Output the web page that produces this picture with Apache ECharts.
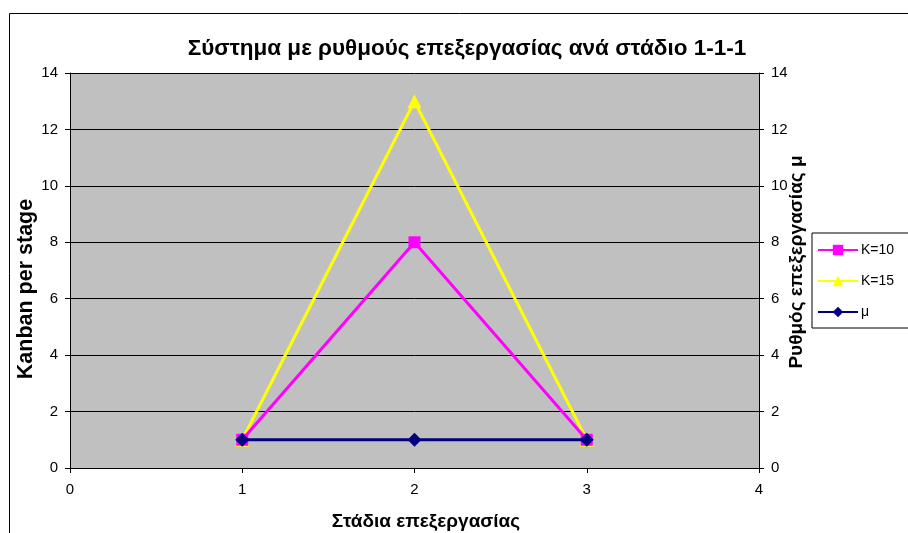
<!DOCTYPE html>
<html><head><meta charset="utf-8">
<script src="https://cdn.jsdelivr.net/npm/echarts@6/dist/echarts.min.js"></script>
<style>html,body{margin:0;padding:0;background:#fff}#c{width:908px;height:533px}</style>
</head><body><div id="c"></div>
<script>
const titleText = 'Σύστημα με ρυθμούς επεξεργασίας ανά στάδιο 1-1-1';
const xTitle = 'Στάδια επεξεργασίας';
const yLeftTitle = 'Kanban per stage';
const yRightTitle = 'Ρυθμός επεξεργασίας μ';
const stages = [1, 2, 3];
const k10 = [1, 8, 1];
const k15 = [1, 13, 1];
const mu = [1, 1, 1];
const seriesNames = ['K=10', 'K=15', 'μ'];

const font = 'Arial, "Liberation Sans", sans-serif';
const pair = arr => stages.map((s, i) => [s, arr[i]]);
const chart = echarts.init(document.getElementById('c'), null, {renderer: 'canvas'});
const axisCommon = {
  axisLine: {show: true, lineStyle: {color: '#000', width: 1}},
  axisTick: {show: true, inside: false, length: 5, lineStyle: {color: '#000'}},
  axisLabel: {color: '#000', fontFamily: font, fontSize: 15}
};
const titleStyle = (size) => ({fill: '#000', font: 'bold ' + size + 'px ' + font,
  align: 'center', verticalAlign: 'middle'});
chart.setOption({
  animation: false,
  backgroundColor: '#fff',
  title: {text: titleText, left: 462, top: 32, textAlign: 'center',
    textStyle: {fontFamily: font, fontSize: 22.5, fontWeight: 'bold', color: '#000'}},
  graphic: [
    {type: 'rect', shape: {x: 9.5, y: 13.5, width: 1000, height: 600},
      style: {fill: null, stroke: '#000', lineWidth: 1}, silent: true, z: -1},
    {type: 'text', x: 426, y: 522, style: Object.assign({text: xTitle}, titleStyle(19)), silent: true},
    {type: 'text', x: 26, y: 289, rotation: Math.PI / 2, style: Object.assign({text: yLeftTitle}, titleStyle(21.5)), silent: true},
    {type: 'text', x: 797, y: 262, rotation: Math.PI / 2, style: Object.assign({text: yRightTitle}, titleStyle(19)), silent: true}
  ],
  grid: {left: 70, top: 73, width: 689, height: 395, show: true, backgroundColor: '#C0C0C0',
    borderWidth: 0, containLabel: false, outerBoundsMode: 'none'},
  legend: {orient: 'vertical', left: 812, top: 233, data: seriesNames,
    itemWidth: 40, itemHeight: 13, itemGap: 17,
    padding: [10, 30, 9, 5], borderColor: '#000', borderWidth: 1,
    textStyle: {fontFamily: font, fontSize: 14, color: '#000', padding: [0, 0, 0, -2]}},
  xAxis: Object.assign({}, axisCommon, {type: 'value', min: 0, max: 4, interval: 1,
    splitLine: {show: false},
    axisLabel: Object.assign({}, axisCommon.axisLabel, {margin: 14})}),
  yAxis: [
    Object.assign({}, axisCommon, {type: 'value', min: 0, max: 14, interval: 2, position: 'left',
      splitLine: {show: true, lineStyle: {color: '#000', width: 1}},
      axisLabel: Object.assign({}, axisCommon.axisLabel, {margin: 12})}),
    Object.assign({}, axisCommon, {type: 'value', min: 0, max: 14, interval: 2, position: 'right',
      splitLine: {show: false},
      axisLabel: Object.assign({}, axisCommon.axisLabel, {margin: 12})})
  ],
  series: [
    {name: seriesNames[0], type: 'line', data: pair(k10), yAxisIndex: 0, z: 3,
      symbol: 'rect', symbolSize: 12, lineStyle: {color: '#FF00FF', width: 3},
      itemStyle: {color: '#FF00FF'}},
    {name: seriesNames[1], type: 'line', data: pair(k15), yAxisIndex: 0, z: 2,
      symbol: 'triangle', symbolSize: 14, lineStyle: {color: '#FFFF00', width: 3},
      itemStyle: {color: '#FFFF00'}},
    {name: seriesNames[2], type: 'line', data: pair(mu), yAxisIndex: 1, z: 4,
      symbol: 'diamond', symbolSize: 14, lineStyle: {color: '#000080', width: 3},
      itemStyle: {color: '#000080'}}
  ]
});
</script></body></html>
